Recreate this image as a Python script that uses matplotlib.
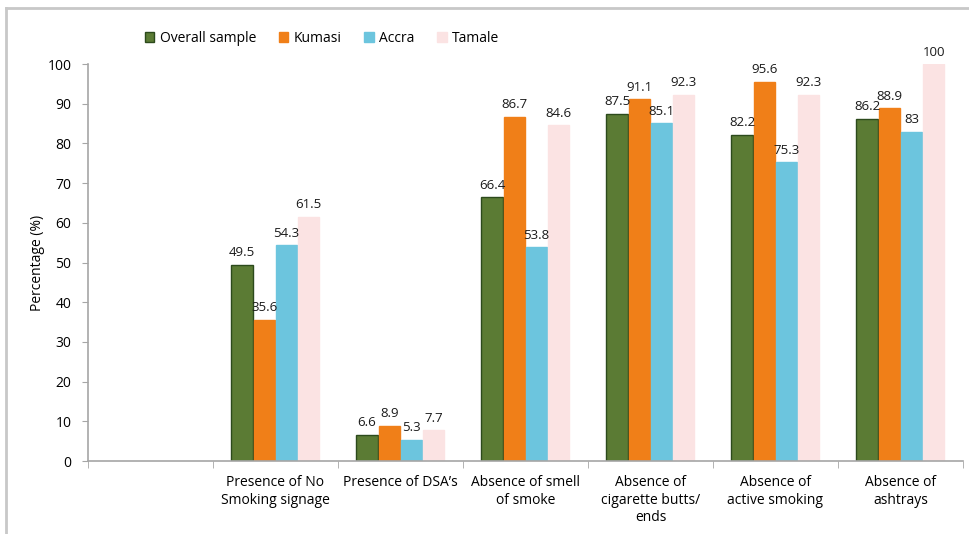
import numpy as np
import matplotlib.pyplot as plt
from matplotlib.lines import Line2D

plt.rcParams['font.family'] = ['Open Sans', 'DejaVu Sans']

categories = ['', 'Presence of No\nSmoking signage', 'Presence of DSA\u2019s',
              'Absence of smell\nof smoke', 'Absence of\ncigarette butts/\nends',
              'Absence of\nactive smoking', 'Absence of\nashtrays']
series = ['Overall sample', 'Kumasi', 'Accra', 'Tamale']
overall = [49.5, 6.6, 66.4, 87.5, 82.2, 86.2]
kumasi = [35.6, 8.9, 86.7, 91.1, 95.6, 88.9]
accra = [54.3, 5.3, 53.8, 85.1, 75.3, 83]
tamale = [61.5, 7.7, 84.6, 92.3, 92.3, 100]
yticks = list(range(0, 101, 10))

faces = ['#5b7b34', '#f07f18', '#6cc5de', '#fbe3e3']
edges = ['#2c4a1c', '#f07f18', '#6cc5de', '#fbe3e3']

fig = plt.figure(figsize=(9.7, 5.34), dpi=100)
ax = fig.add_axes([0.0907, 0.1367, 0.902, 0.7433])

# first slot stays empty, bars sit on slots 1..6
x = np.arange(1, len(categories))
step = 0.178
width = 0.170
for i, vals in enumerate([overall, kumasi, accra, tamale]):
    pos = x + (i - 1.5) * step
    ax.bar(pos, vals, width, color=faces[i], edgecolor=edges[i], linewidth=1.0,
           label=series[i])
    for px, v in zip(pos, vals):
        ax.annotate(f'{v:g}', (px, v), xytext=(0, 4), textcoords='offset points',
                    ha='center', va='bottom', fontsize=9.5, color='#1a1a1a')

ax.set_xlim(-0.5, len(categories) - 0.5)
ax.set_ylim(0, 100)
ax.set_yticks(yticks)
ax.tick_params(axis='y', labelsize=10, length=4, color='#a6a6a6', pad=8)
ax.set_xticks(np.arange(len(categories)))
ax.set_xticklabels(categories, fontsize=10, linespacing=1.25)
ax.tick_params(axis='x', which='major', length=0, pad=10)
ax.set_xticks(np.arange(len(categories) + 1) - 0.5, minor=True)
ax.tick_params(axis='x', which='minor', length=5, color='#a6a6a6')
for s in ['top', 'right']:
    ax.spines[s].set_visible(False)
for s in ['left', 'bottom']:
    ax.spines[s].set_color('#a6a6a6')
    ax.spines[s].set_linewidth(1.2)
ax.set_ylabel('Percentage (%)', fontsize=10, labelpad=2)

fig.legend(loc='center', bbox_to_anchor=(0.332, 0.928), ncol=4, frameon=False,
           fontsize=10, handlelength=0.7, handleheight=0.7, handletextpad=0.4,
           columnspacing=1.6)

# outer frame lines
fig.add_artist(Line2D([0.006, 0.006], [0, 0.985], transform=fig.transFigure,
                      color='#c8c8c8', linewidth=2))
fig.add_artist(Line2D([0.006, 1.0], [0.985, 0.985], transform=fig.transFigure,
                      color='#c8c8c8', linewidth=2))

fig.savefig('out.png', dpi=100)
